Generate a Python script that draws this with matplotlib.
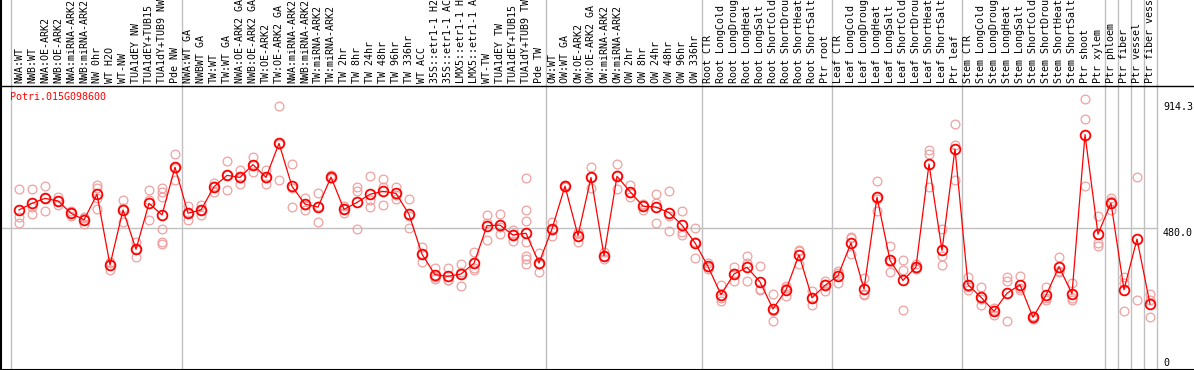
import matplotlib as mpl
mpl.use("Agg")
import matplotlib.pyplot as plt
import numpy as np

samples = [
    "NWA:WT", "NWB:WT", "NWA:OE-ARK2", "NWB:OE-ARK2", "NWA:miRNA-ARK2",
    "NWB:miRNA-ARK2", "NW 0hr", "WT H2O", "WT-NW", "TUA1dEY NW",
    "TUA1dEY+TUB15 NW", "TUA1dY+TUB9 NW", "Pde NW",
    "NWA:WT GA", "NWBWT GA", "TW:WT", "TW:WT GA", "NWA:OE-ARK2 GA",
    "NWB:OE-ARK2 GA", "TW:OE-ARK2", "TW:OE-ARK2 GA", "NWA:miRNA-ARK2",
    "NWB:miRNA-ARK2", "TW:miRNA-ARK2", "TW:miRNA-ARK2", "TW 2hr", "TW 8hr",
    "TW 24hr", "TW 48hr", "TW 96hr", "TW 336hr", "WT ACC",
    "35S::etr1-1 H2O", "35S::etr1-1 ACC", "LMX5::etr1-1 H2O",
    "LMX5::etr1-1 ACC", "WT-TW", "TUA1dEY TW", "TUA1dEY+TUB15 TW",
    "TUA1dY+TUB9 TW", "Pde TW",
    "OW:WT", "OW:WT GA", "OW:OE-ARK2", "OW:OE-ARK2 GA", "OW:miRNA-ARK2",
    "OW:miRNA-ARK2", "OW 2hr", "OW 8hr", "OW 24hr", "OW 48hr", "OW 96hr",
    "OW 336hr",
    "Root CTR", "Root LongCold", "Root LongDrought", "Root LongHeat",
    "Root LongSalt", "Root ShortCold", "Root ShortDrought", "Root ShortHeat",
    "Root ShortSalt", "Ptr root",
    "Leaf CTR", "Leaf LongCold", "Leaf LongDrought", "Leaf LongHeat",
    "Leaf LongSalt", "Leaf ShortCold", "Leaf ShortDrought", "Leaf ShortHeat",
    "Leaf ShortSalt", "Ptr leaf",
    "Stem CTR", "Stem LongCold", "Stem LongDrought", "Stem LongHeat",
    "Stem LongSalt", "Stem ShortCold", "Stem ShortDrought", "Stem ShortHeat",
    "Stem ShortSalt", "Ptr shoot", "Ptr xylem",
    "Ptr phloem", "Ptr fiber", "Ptr vessel", "Ptr fiber vessel",
]

means = [
    543, 566, 583, 574, 532, 509, 597, 354, 543, 408, 566, 526, 690,
    532, 543, 623, 662, 655, 699, 655, 772, 624, 563, 553, 656, 545, 569,
    597, 607, 600, 528, 391, 321, 315, 323, 360, 489, 491, 457, 463, 361,
    478, 625, 455, 655, 386, 659, 606, 556, 553, 534, 491, 430,
    349, 252, 323, 346, 296, 203, 268, 389, 241, 284,
    317, 430, 271, 587, 370, 301, 347, 701, 404, 753,
    286, 243, 195, 257, 286, 174, 250, 348, 255, 802, 460,
    567, 269, 443, 220,
]

replicates = [
    [614, 518, 497], [615, 554, 528], [624, 583, 540], [589, 560, 574],
    [541, 522, 533], [514, 494, 519], [630, 618, 583, 546], [360, 337, 365],
    [577, 501, 551], [434, 382, 408], [612, 577, 509],
    [618, 606, 589, 479, 434, 426], [735, 646, 689],
    [557, 508, 531], [560, 526, 543], [637, 606, 626], [711, 612, 663],
    [680, 631, 654], [724, 675, 698], [680, 633, 652], [900, 646, 770],
    [701, 553, 618], [584, 544, 561], [600, 501, 558], [664, 652, 652],
    [556, 533, 546], [621, 609, 478], [659, 578, 553], [649, 621, 559],
    [623, 582, 595], [581, 481, 522], [416, 364, 393], [344, 306, 313],
    [343, 301, 301], [357, 281, 331], [399, 338, 343], [526, 441, 500],
    [529, 461, 483], [475, 436, 460],
    [652, 542, 504, 432, 386, 376, 358], [395, 329, 359],
    [502, 455, 477], [628, 625, 622], [467, 434, 464], [690, 619, 656],
    [399, 375, 384], [700, 615, 662], [629, 589, 600], [544, 560, 564],
    [597, 567, 498], [607, 521, 470], [538, 466, 458], [481, 377, 432],
    [361, 340, 346], [286, 229, 241], [346, 298, 325], [385, 361, 300],
    [349, 269, 270], [254, 160, 195], [283, 246, 275], [407, 358, 402],
    [264, 218, 241], [300, 264, 288],
    [334, 292, 325], [450, 393, 447], [309, 250, 254], [642, 538, 581],
    [418, 329, 363], [370, 337, 199], [357, 345, 339], [749, 735, 623],
    [478, 384, 355], [838, 767, 647],
    [313, 267, 278], [277, 215, 237], [206, 181, 198], [312, 298, 160],
    [315, 267, 276], [168, 177, 177], [277, 233, 240], [380, 330, 334],
    [292, 233, 240], [925, 857, 624], [521, 430, 420],
    [584, 544, 573], [313, 292, 195], [655, 234], [254, 174, 232],
]

# first index of each new sample group
group_starts = [13, 41, 53, 63, 73, 84, 85, 86, 87, 88]
gene = "Potri.015G098600"
y_marks = [914.3, 480.0, 0]

W, H = 1194, 370
fig = plt.figure(figsize=(W / 100, H / 100), dpi=100)
ax = fig.add_axes([0, 0, 1, 1])

# pixel -> data mapping (13 px per sample, 0.291 px per unit)
def vy(py):
    return (368 - py) / 0.291

def vx(px):
    return (px - 19) / 13

ax.set_xlim(vx(0), vx(W))
ax.set_ylim(vy(H), vy(0))
ax.axis("off")

mono = "DejaVu Sans Mono"
grid = "#c0c0c0"

x = np.arange(len(samples))

# grid / separators
ax.axvline(-0.62, color=grid, lw=1)
for g in group_starts:
    ax.axvline(g - 0.5, color=grid, lw=1)
ax.plot([vx(0), 87.5], [480, 480], color=grid, lw=1)
ax.axvline(vx(1.5), color="black", lw=1.5)
ax.axhline(vy(85.5), color="black", lw=1)
ax.axhline(vy(369.5), color="black", lw=1.5)

# replicates
for i, reps in enumerate(replicates):
    ax.plot([i] * len(reps), reps, linestyle="none", marker="o",
            markersize=6.3, markerfacecolor="none",
            markeredgecolor="#f0a0a0", markeredgewidth=0.9, zorder=2)

ax.plot(x, means, color="red", lw=0.9, zorder=3)
ax.plot(x, means, linestyle="none", marker="o", markersize=7,
        markerfacecolor="none", markeredgecolor="red",
        markeredgewidth=1.3, zorder=4)

# header labels
for i, s in enumerate(samples):
    ax.text(i, vy(83), s, rotation=90, ha="center", va="bottom",
            family=mono, fontsize=7.2, color="black")

ax.text(vx(10), vy(97), gene, ha="left", va="center",
        family=mono, fontsize=7.2, color="red")

ax.text(vx(1163), y_marks[0], f"{y_marks[0]:.1f}", ha="left", va="top",
        family=mono, fontsize=7.2)
ax.text(vx(1163), y_marks[1], f"{y_marks[1]:.1f}", ha="left", va="top",
        family=mono, fontsize=7.2)
ax.text(vx(1163), y_marks[2], f"{y_marks[2]}", ha="left", va="bottom",
        family=mono, fontsize=7.2)

fig.savefig("out.png", dpi=100)
